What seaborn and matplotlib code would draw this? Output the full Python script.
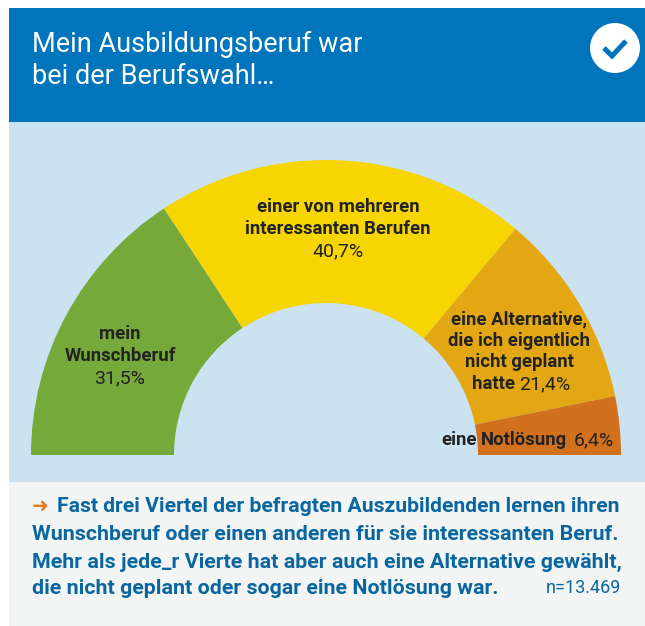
import matplotlib
matplotlib.use("Agg")
import matplotlib.pyplot as plt
from matplotlib.patches import Rectangle, Circle
import seaborn as sns

# Werte aus dem Bild
categories = ["mein Wunschberuf", "einer von mehreren interessanten Berufen",
              "eine Alternative", "eine Notlösung"]
values = [31.5, 40.7, 21.4, 6.4]
colors = ["#76A93A", "#F6D500", "#E2A713", "#D1711E"]
value_labels = ["31,5%", "40,7%", "21,4%", "6,4%"]

sns.set_theme(style="white")
plt.rcParams["font.family"] = ["Roboto", "DejaVu Sans"]

W, H = 645, 626
fig = plt.figure(figsize=(W / 100, H / 100), dpi=100, facecolor="white")
ax = fig.add_axes([0, 0, 1, 1])


def Y(py):
    return H - py


def label(x, y, s, size=13.3, weight="bold", color="#222222", ha="center", **kw):
    ax.text(x, Y(y), s, fontsize=size, fontweight=weight, color=color,
            ha=ha, va="center", zorder=5, **kw)


# Halbkreis: die zweite Haelfte bleibt unsichtbar
wedges, _ = ax.pie(values + [sum(values)], colors=colors + ["none"],
                   center=(326, Y(455)), radius=295, startangle=180,
                   counterclock=False, frame=True,
                   wedgeprops=dict(width=143, linewidth=0, zorder=3))
wedges[-1].set_visible(False)

ax.set_xlim(0, W)
ax.set_ylim(0, H)
ax.axis("off")

# Flaechen
ax.add_patch(Rectangle((9, Y(122)), W - 9, 114, color="#0075BC", lw=0, zorder=1))
ax.add_patch(Rectangle((9, Y(482)), W - 9, 360, color="#CBE2F1", lw=0, zorder=1))
ax.add_patch(Rectangle((9, 0), W - 9, H - 482, color="#F3F5F5", lw=0, zorder=1))

# Kopf
label(32, 44, "Mein Ausbildungsberuf war", size=19.5, weight="normal", color="white", ha="left")
label(32, 77, "bei der Berufswahl…", size=19.5, weight="normal", color="white", ha="left")
ax.add_patch(Circle((615, Y(48)), 25, color="white", lw=0, zorder=2))
ax.plot([604, 612, 626], [Y(48), Y(56), Y(41)], color="#0075BC", lw=3.6, zorder=3,
        solid_capstyle="butt", solid_joinstyle="miter")

# Beschriftung der Segmente
label(120, 334, "mein")
label(120, 356, "Wunschberuf")
label(120, 378, value_labels[0], weight="normal", size=14)

label(338, 207, "einer von mehreren")
label(338, 229, "interessanten Berufen")
label(338, 251, value_labels[1], weight="normal", size=14)

label(519, 319, "eine Alternative,")
label(519, 341, "die ich eigentlich")
label(519, 362, "nicht geplant")
label(515, 384, "hatte", ha="right")
label(519, 384, value_labels[2], weight="normal", ha="left", size=14)

label(477, 440, "eine", ha="right")
label(481, 440, "Notlösung", ha="left")
label(574, 440, value_labels[3], weight="normal", ha="left", size=14)

# Fazit
blue = "#0A669F"
ax.text(32, Y(507), "➜", fontsize=14.5, fontweight="bold", color="#E07B1F",
        ha="left", va="center", family="DejaVu Sans", zorder=5)
label(57, 507, "Fast drei Viertel der befragten Auszubildenden lernen ihren", color=blue, ha="left", size=15.2)
label(32, 535, "Wunschberuf oder einen anderen für sie interessanten Beruf.", color=blue, ha="left", size=15.4)
label(32, 562, "Mehr als jede_r Vierte hat aber auch eine Alternative gewählt,", color=blue, ha="left", size=15.4)
label(32, 588, "die nicht geplant oder sogar eine Notlösung war.", color=blue, ha="left", size=15.4)
label(621, 588, "n=13.469", color=blue, ha="right", size=13, weight="normal")

fig.savefig("out.png", dpi=100)
